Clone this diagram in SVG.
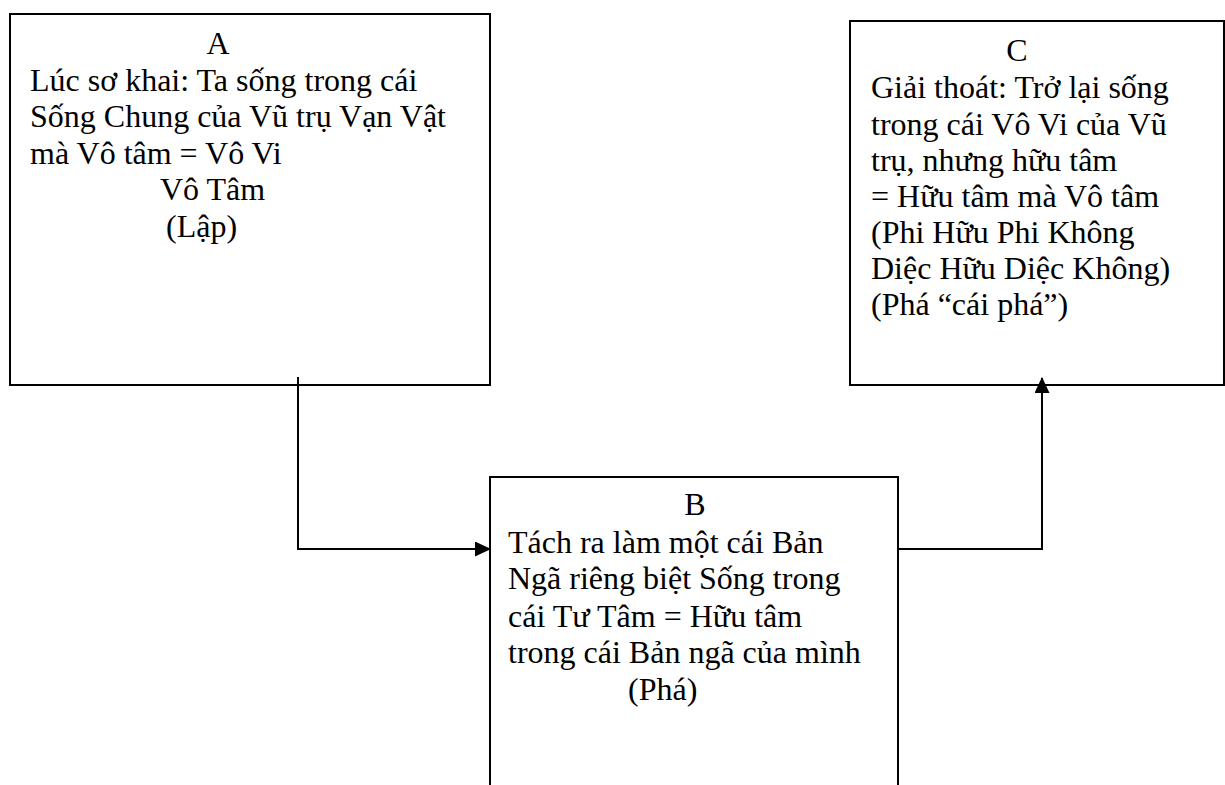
<svg xmlns="http://www.w3.org/2000/svg" width="1225" height="785" viewBox="0 0 1225 785">
<style>
.box{fill:#fff;stroke:#000;stroke-width:2}
.t{font-family:"Liberation Serif","Times New Roman",serif;font-size:32px;fill:#000}
.c{text-anchor:middle}
.conn{fill:none;stroke:#000;stroke-width:2}
</style>
<defs>
<marker id="ah" markerWidth="16" markerHeight="16" refX="15" refY="7.5" orient="auto" markerUnits="userSpaceOnUse">
<path d="M0,0 L16,7.5 L0,15 Z" fill="#000"/>
</marker>
</defs>
<g id="nodeA">
<rect class="box" x="10" y="14" width="480" height="371"/>
<text class="t c" x="218" y="54">A</text>
<text class="t" x="30" y="91">Lúc sơ khai: Ta sống trong cái</text>
<text class="t" x="30" y="127">Sống Chung của Vũ trụ Vạn Vật</text>
<text class="t" x="30" y="164">mà Vô tâm = Vô Vi</text>
<text class="t" x="160" y="200">Vô Tâm</text>
<text class="t" x="166" y="237">(Lập)</text>
</g>
<g id="nodeC">
<rect class="box" x="850" y="21" width="374" height="364"/>
<text class="t c" x="1017" y="61">C</text>
<text class="t" x="871" y="98">Giải thoát: Trở lại sống</text>
<text class="t" x="871" y="135">trong cái Vô Vi của Vũ</text>
<text class="t" x="871" y="171">trụ, nhưng hữu tâm</text>
<text class="t" x="871" y="207">= Hữu tâm mà Vô tâm</text>
<text class="t" x="871" y="243">(Phi Hữu Phi Không</text>
<text class="t" x="871" y="279">Diệc Hữu Diệc Không)</text>
<text class="t" x="871" y="315">(Phá “cái phá”)</text>
</g>
<g id="nodeB">
<rect class="box" x="490" y="477" width="408" height="320"/>
<text class="t c" x="695" y="515">B</text>
<text class="t" x="508" y="553">Tách ra làm một cái Bản</text>
<text class="t" x="508" y="589">Ngã riêng biệt Sống trong</text>
<text class="t" x="508" y="627">cái Tư Tâm = Hữu tâm</text>
<text class="t" x="508" y="663">trong cái Bản ngã của mình</text>
<text class="t" x="628" y="700">(Phá)</text>
</g>
<g id="connectors">
<path class="conn" d="M298,377 L298,549 L490,549" marker-end="url(#ah)"/>
<path class="conn" d="M898,549 L1042,549 L1042,378" marker-end="url(#ah)"/>
</g>
</svg>
